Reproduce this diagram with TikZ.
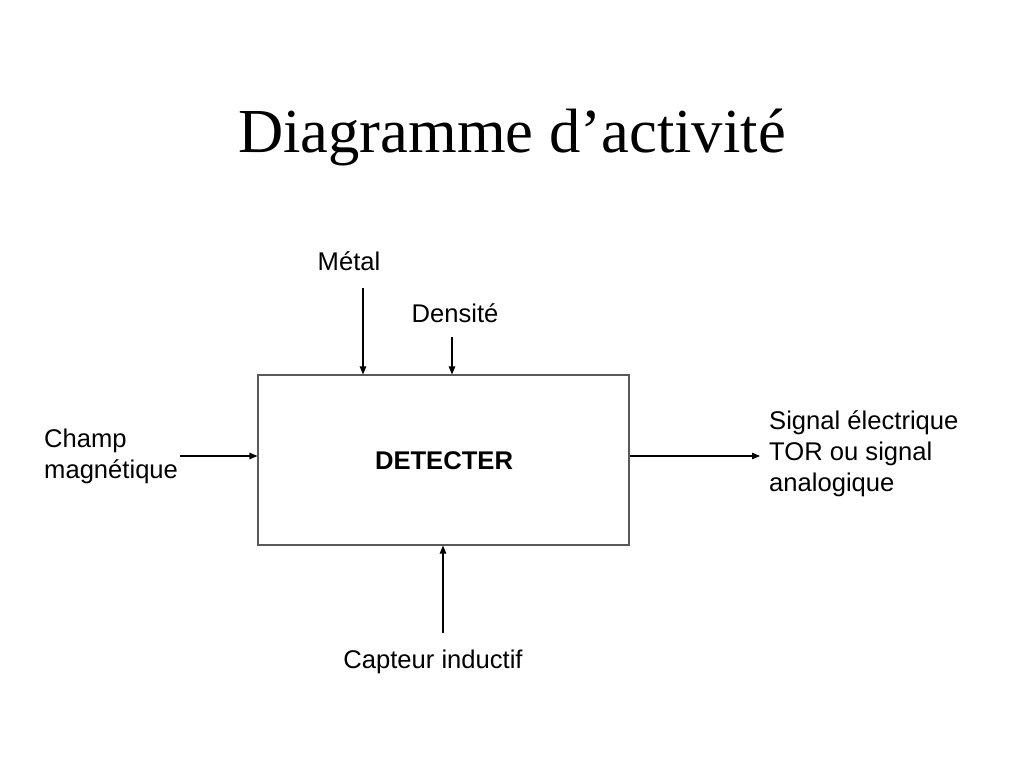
\documentclass[tikz,border=0pt]{standalone}
\usepackage{fontspec}
\setmainfont{Liberation Serif}
\newfontfamily\arialf{Liberation Sans}
\usetikzlibrary{arrows.meta}
\begin{document}
\begin{tikzpicture}[x=1pt,y=-1pt,
  lbl/.style={font=\arialf\fontsize{25.6}{31}\selectfont,inner sep=0pt},
  arr/.style={draw=black,line width=1.1pt,-{Triangle[length=8pt,width=6.5pt]}},
  boxst/.style={draw=black!65,line width=1.1pt,minimum width=371pt,minimum height=170pt,inner sep=0pt,font=\arialf\bfseries\fontsize{25.6}{31}\selectfont}]
\useasboundingbox (0,0) rectangle (1024,768);
\node[font=\fontsize{62.6}{70}\selectfont,inner sep=0pt] (title) at (512,137) {Diagramme d’activité};
\node[boxst] (box) at (443.5,460) {};
\node[font=\arialf\bfseries\fontsize{25.6}{31}\selectfont,inner sep=0pt] (det) at (444,461) {DETECTER};
\node[lbl] (metal) at (349,261) {Métal};
\node[lbl] (dens) at (455,313) {Densité};
\node[lbl,align=left,anchor=west] (champ) at (44,456) {Champ\\magnétique};
\node[lbl,align=left,anchor=west] (sig) at (769,454) {Signal électrique\\TOR ou signal\\analogique};
\node[lbl] (capt) at (433,662) {Capteur inductif};
\coordinate (m0) at (363,288);
\coordinate (d0) at (452,337);
\coordinate (c0) at (180,456);
\coordinate (s1) at (760,456);
\coordinate (p0) at (443,633);
\draw[arr] (m0) -- (m0 |- box.north);
\draw[arr] (d0) -- (d0 |- box.north);
\draw[arr] (c0) -- (c0 -| box.west);
\draw[arr] (c0 -| box.east) -- (s1);
\draw[arr] (p0) -- (p0 |- box.south);
\end{tikzpicture}
\end{document}
